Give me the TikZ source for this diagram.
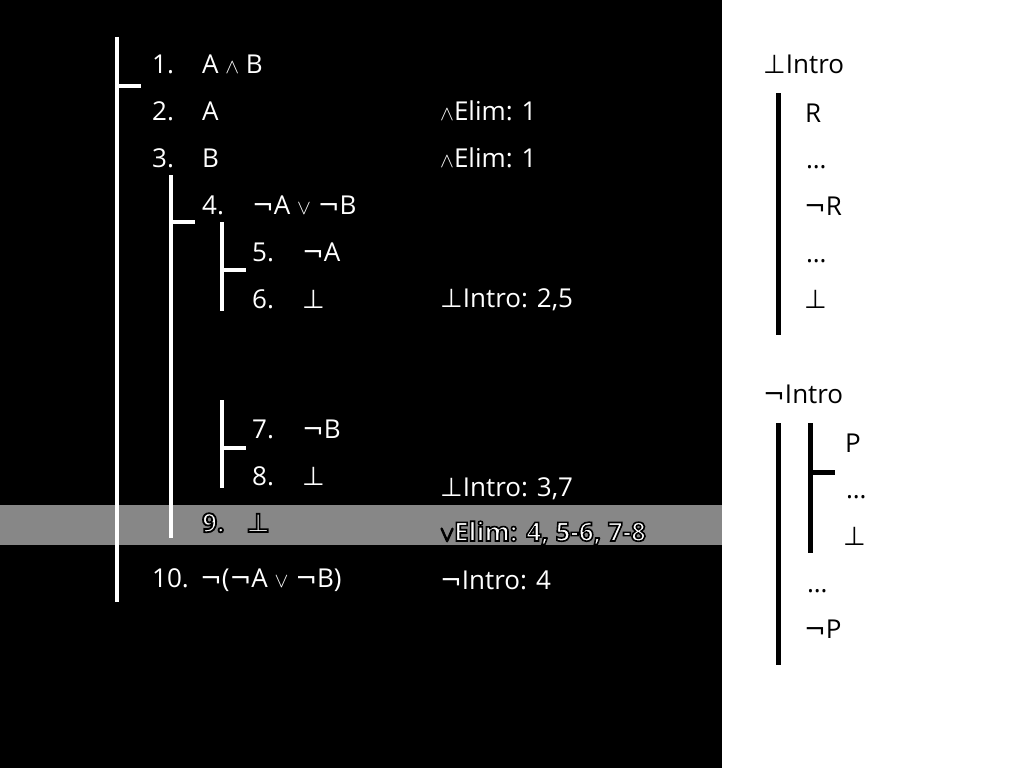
\documentclass[tikz,border=0pt]{standalone}
\usepackage{fontspec}
\setmainfont{Open Sans}
\newfontfamily\symf{DejaVu Sans}
\newcommand{\sy}[1]{{\symf #1}}
\newcommand{\ssy}[1]{{\fontsize{22}{26}\selectfont$#1$}}
\newcommand{\halo}[2]{\special{pdf:code q 2 Tr #1 w 0 0 0 RG}#2\special{pdf:code Q}}
\definecolor{bandgray}{HTML}{878787}
\tikzset{
  txt/.style={inner sep=0pt, anchor=base west, font=\fontsize{26}{30}\selectfont},
  wtxt/.style={txt, text=white},
  btxt/.style={txt, text=black},
  jtxt/.style={wtxt},
  wbar/.style={draw=white, line width=4pt},
  bbar/.style={draw=black, line width=5pt},
}
\begin{document}
\begin{tikzpicture}[x=1pt,y=-1pt]
\useasboundingbox (0,0) rectangle (1024,768);
\fill[black] (0,0) rectangle (722,768);
\fill[white] (722,0) rectangle (1024,768);
\fill[bandgray] (0,505) rectangle (722,545);

% bars (left)
\coordinate (m1) at (117,37); \coordinate (m2) at (117,602);
\coordinate (mt) at (141,86);
\draw[wbar] (m1) -- (m2);
\draw[wbar] (117,86) -- (mt);
\coordinate (s1) at (171,175); \coordinate (s2) at (171,538);
\coordinate (st) at (195,222);
\draw[wbar] (s1) -- (s2);
\draw[wbar] (171,222) -- (st);
\coordinate (a1) at (222,222); \coordinate (a2) at (222,311);
\coordinate (at) at (246,270);
\draw[wbar] (a1) -- (a2);
\draw[wbar] (222,270) -- (at);
\coordinate (b1) at (222,400); \coordinate (b2) at (222,488);
\coordinate (bt) at (246,448);
\draw[wbar] (b1) -- (b2);
\draw[wbar] (222,448) -- (bt);

% lines
\node[wtxt] (n1) at (152,73) {1.};
\node[wtxt] (f1) at (202,73) {A \ssy{\wedge} B};
\node[wtxt] (n2) at (152,120) {2.};
\node[wtxt] (f2) at (202,120) {A};
\node[wtxt] (n3) at (152,167) {3.};
\node[wtxt] (f3) at (202,167) {B};
\node[wtxt] (n4) at (202,214) {4.};
\node[wtxt] (f4) at (252,214) {\sy{¬}A \ssy{\vee} \sy{¬}B};
\node[wtxt] (n5) at (252,261) {5.};
\node[wtxt] (f5) at (302,261) {\sy{¬}A};
\node[wtxt] (n6) at (252,308) {6.};
\node[wtxt] (f6) at (302,308) {\sy{⊥}};
\node[wtxt] (n7) at (252,438) {7.};
\node[wtxt] (f7) at (302,438) {\sy{¬}B};
\node[wtxt] (n8) at (252,485) {8.};
\node[wtxt] (f8) at (302,485) {\sy{⊥}};
\node[wtxt, font=\fontsize{26}{30}\selectfont\bfseries] (n9) at (202,532) {\halo{1.8}{9.}};
\node[wtxt] (f9) at (246,532) {\halo{1.8}{\symf\bfseries ⊥}};
\node[wtxt] (n10) at (152,587) {10.};
\node[wtxt] (f10) at (200,587) {\sy{¬}(\sy{¬}A \ssy{\vee} \sy{¬}B)};

% justifications
\node[jtxt] (j2) at (440,120) {\ssy{\wedge}Elim: 1};
\node[jtxt] (j3) at (440,167) {\ssy{\wedge}Elim: 1};
\node[jtxt] (j6) at (440,307) {\sy{⊥}Intro: 2,5};
\node[jtxt] (j8) at (440,496) {\sy{⊥}Intro: 3,7};
\node[jtxt, font=\fontsize{26}{30}\selectfont\bfseries] (j9) at (440,541) {\halo{1.6}{\ssy{\vee}Elim: 4, 5-6, 7-8}};
\node[jtxt] (j10) at (440,589) {\sy{¬}Intro: 4};

% right side: bot intro
\node[btxt] (bi) at (763,73) {\sy{⊥}Intro};
\coordinate (r1) at (778,93); \coordinate (r2) at (778,335);
\draw[bbar] (r1) -- (r2);
\node[btxt] (rR) at (805,122) {R};
\node[btxt] (rd1) at (806,168) {…};
\node[btxt] (rnR) at (804,215) {\sy{¬}R};
\node[btxt] (rd2) at (806,262) {…};
\node[btxt] (rb) at (804,308) {\sy{⊥}};

% right side: neg intro
\node[btxt] (ni) at (763,403) {\sy{¬}Intro};
\coordinate (o1) at (778,423); \coordinate (o2) at (778,665);
\draw[bbar] (o1) -- (o2);
\coordinate (i1) at (810,423); \coordinate (i2) at (810,553);
\coordinate (it) at (835,472);
\draw[bbar] (i1) -- (i2);
\draw[bbar] (810,472) -- (it);
\node[btxt] (pP) at (845,452) {P};
\node[btxt] (pd) at (846,498) {…};
\node[btxt] (pb) at (843,545) {\sy{⊥}};
\node[btxt] (od) at (807,592) {…};
\node[btxt] (onP) at (804,638) {\sy{¬}P};
\end{tikzpicture}
\end{document}
